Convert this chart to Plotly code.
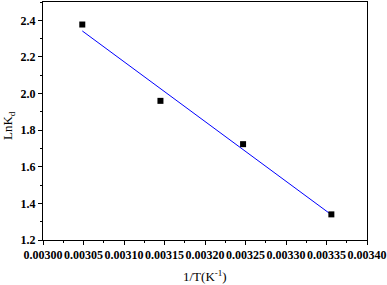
import plotly.graph_objects as go

inv_T = [0.0030485, 0.003145, 0.003247, 0.003356]
ln_kd = [2.377, 1.96, 1.7235, 1.34]
fit_x = [0.0030485, 0.003356]
fit_y = [2.342, 1.338]

x_ticks = [0.00300, 0.00305, 0.00310, 0.00315, 0.00320, 0.00325, 0.00330, 0.00335, 0.00340]
x_labels = ["0.00300", "0.00305", "0.00310", "0.00315", "0.00320", "0.00325", "0.00330", "0.00335", "0.00340"]
y_ticks = [1.2, 1.4, 1.6, 1.8, 2.0, 2.2, 2.4]
y_labels = ["1.2", "1.4", "1.6", "1.8", "2.0", "2.2", "2.4"]

FONT = "Liberation Serif, Times New Roman, serif"

fig = go.Figure()
fig.add_trace(go.Scatter(x=fit_x, y=fit_y, mode="lines",
                         line=dict(color="#0000ff", width=1), showlegend=False))
fig.add_trace(go.Scatter(x=inv_T, y=ln_kd, mode="markers",
                         marker=dict(symbol="square", size=6, color="black"), showlegend=False))

axis_common = dict(showgrid=False, zeroline=False, showline=True, linecolor="black",
                   linewidth=1, mirror=True, ticks="outside", ticklen=4, tickwidth=1,
                   tickcolor="black", automargin=False, tickangle=0,
                   tickfont=dict(family=FONT, size=12, color="black", weight="bold"))

fig.update_xaxes(range=[0.00300, 0.00340], tickvals=x_ticks, ticktext=x_labels,
                 minor=dict(ticks="outside", ticklen=2, tickcolor="black", dtick=0.000025, tick0=0.003),
                 **axis_common)
fig.update_yaxes(range=[1.2, 2.5], tickvals=y_ticks, ticktext=y_labels,
                 minor=dict(ticks="outside", ticklen=2, tickcolor="black", dtick=0.1, tick0=1.2),
                 **axis_common)

fig.add_annotation(text="LnK<sub>d</sub>", xref="paper", yref="paper", x=0, y=0.5,
                   xanchor="center", yanchor="middle", xshift=-35, yshift=-5,
                   textangle=-90, showarrow=False,
                   font=dict(family=FONT, size=13, color="black"))
fig.add_annotation(text="1/T(K<sup>-1</sup>)", xref="paper", yref="paper", x=0.5, y=0,
                   xanchor="center", yanchor="middle", yshift=-36, showarrow=False,
                   font=dict(family=FONT, size=13, color="black"))

fig.update_layout(width=387, height=285, margin=dict(l=43, r=20, t=2, b=45),
                  plot_bgcolor="white", paper_bgcolor="white")

fig.write_html("out.html", config={"displayModeBar": False},
               post_script="document.body.style.margin='0';")
